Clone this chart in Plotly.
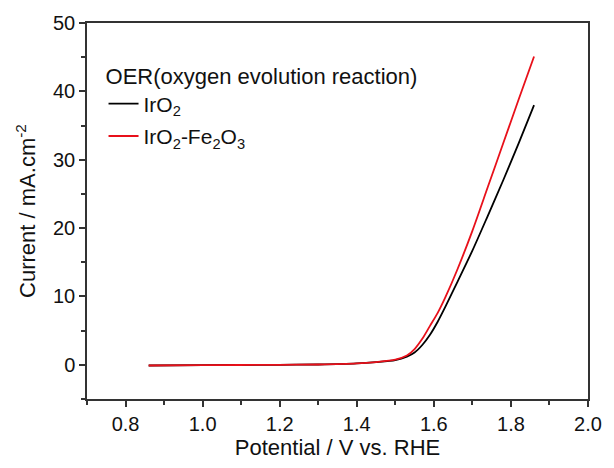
import plotly.graph_objects as go

potential = [0.86, 1.0, 1.2, 1.3, 1.4, 1.45, 1.50, 1.53, 1.55, 1.57, 1.59, 1.61, 1.63, 1.66, 1.70, 1.74, 1.78, 1.82, 1.86]
iro2 = [-0.1, -0.05, 0.0, 0.05, 0.2, 0.4, 0.7, 1.2, 1.8, 2.9, 4.4, 6.3, 8.5, 12.0, 16.7, 21.8, 27.0, 32.4, 38.0]
iro2_fe2o3 = [-0.1, -0.05, 0.0, 0.05, 0.2, 0.4, 0.75, 1.35, 2.3, 3.8, 5.7, 7.6, 9.9, 13.8, 19.6, 26.0, 32.4, 38.8, 45.1]

FONT = "Liberation Sans, Arial, sans-serif"
AX = "#333333"
TXT = "#111111"

fig = go.Figure()
fig.add_trace(go.Scatter(x=potential, y=iro2, mode="lines", name="IrO<sub>2</sub>", legendgroup="a",
                         line=dict(color="black", width=1.8, shape="spline", smoothing=0.8)))
fig.add_trace(go.Scatter(x=potential, y=iro2_fe2o3, mode="lines", name="IrO<sub>2</sub>-Fe<sub>2</sub>O<sub>3</sub>",
                         legendgroup="b",
                         line=dict(color="#e8101a", width=1.8, shape="spline", smoothing=0.8)))

axis_common = dict(showgrid=False, zeroline=False, showline=True, linecolor=AX, linewidth=1.5,
                   mirror=True, ticks="outside", tickcolor=AX, tickwidth=1.5, ticklen=6,
                   tickfont=dict(family=FONT, size=20, color=TXT))

fig.update_xaxes(range=[0.7, 2.0], tick0=0.8, dtick=0.2, tickformat=".1f",
                 minor=dict(ticks="outside", dtick=0.1, tick0=0.7, ticklen=4, tickcolor=AX, tickwidth=1.5),
                 title=dict(text="Potential / V vs. RHE", font=dict(family=FONT, size=22, color=TXT), standoff=4),
                 **axis_common)
fig.update_yaxes(range=[-5, 50], tick0=0, dtick=10,
                 minor=dict(ticks="outside", dtick=5, tick0=-5, ticklen=4, tickcolor=AX, tickwidth=1.5),
                 title=dict(text="Current / mA.cm<sup>-2</sup>", font=dict(family=FONT, size=22, color=TXT), standoff=11),
                 **axis_common)

fig.update_layout(
    width=614, height=468,
    margin=dict(l=87, r=17, t=19, b=69),
    paper_bgcolor="white", plot_bgcolor="white",
    legend=dict(x=0.033, y=0.915, xanchor="left", yanchor="top",
                title=dict(text="OER(oxygen evolution reaction)", font=dict(family=FONT, size=22, color=TXT)),
                font=dict(family=FONT, size=21, color=TXT),
                bgcolor="rgba(0,0,0,0)", tracegroupgap=2),
    showlegend=True,
)

fig.write_html("out.html")
